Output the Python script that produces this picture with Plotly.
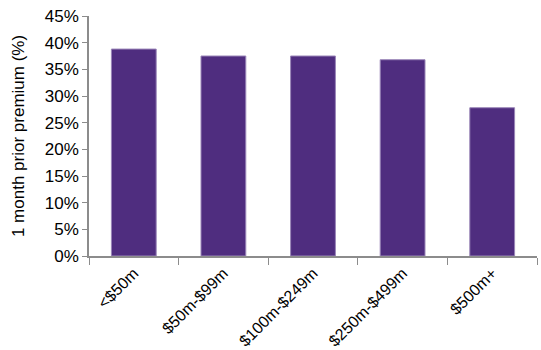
import plotly.graph_objects as go

# Deal size buckets and median 1-month prior premium (fraction)
categories = ["<$50m", "$50m-$99m", "$100m-$249m", "$250m-$499m", "$500m+"]
premium = [0.388, 0.375, 0.375, 0.368, 0.278]
y_ticks = [0, 0.05, 0.10, 0.15, 0.20, 0.25, 0.30, 0.35, 0.40, 0.45]

fig = go.Figure(
    go.Bar(
        x=categories,
        y=premium,
        width=0.5,
        marker=dict(color="#4F2D7F", line=dict(color="#9A86B8", width=1)),
    )
)

axis_font = dict(family="Liberation Sans, Arial, sans-serif", size=17, color="#000000")
x_font = dict(family="Liberation Sans, Arial, sans-serif", size=16, color="#000000")

fig.update_layout(
    width=541,
    height=350,
    margin=dict(l=89, r=4, t=16, b=94),
    paper_bgcolor="white",
    plot_bgcolor="white",
    showlegend=False,
    font=axis_font,
)

fig.update_xaxes(
    type="category",
    automargin=False,
    tickangle=-45,
    tickfont=x_font,
    showline=True,
    linecolor="#8C8C8C",
    linewidth=1.5,
    ticks="outside",
    tickson="boundaries",
    ticklen=7,
    tickcolor="#8C8C8C",
    showgrid=False,
)

fig.update_yaxes(
    automargin=False,
    range=[0, 0.45],
    tickvals=y_ticks,
    tickformat=".0%",
    tickfont=axis_font,
    showline=True,
    linecolor="#8C8C8C",
    linewidth=1.5,
    ticks="outside",
    ticklen=5,
    tickcolor="#8C8C8C",
    showgrid=False,
    zeroline=False,
    title=dict(text="1 month prior premium (%)", font=axis_font, standoff=16),
)

fig.write_html("out.html")
